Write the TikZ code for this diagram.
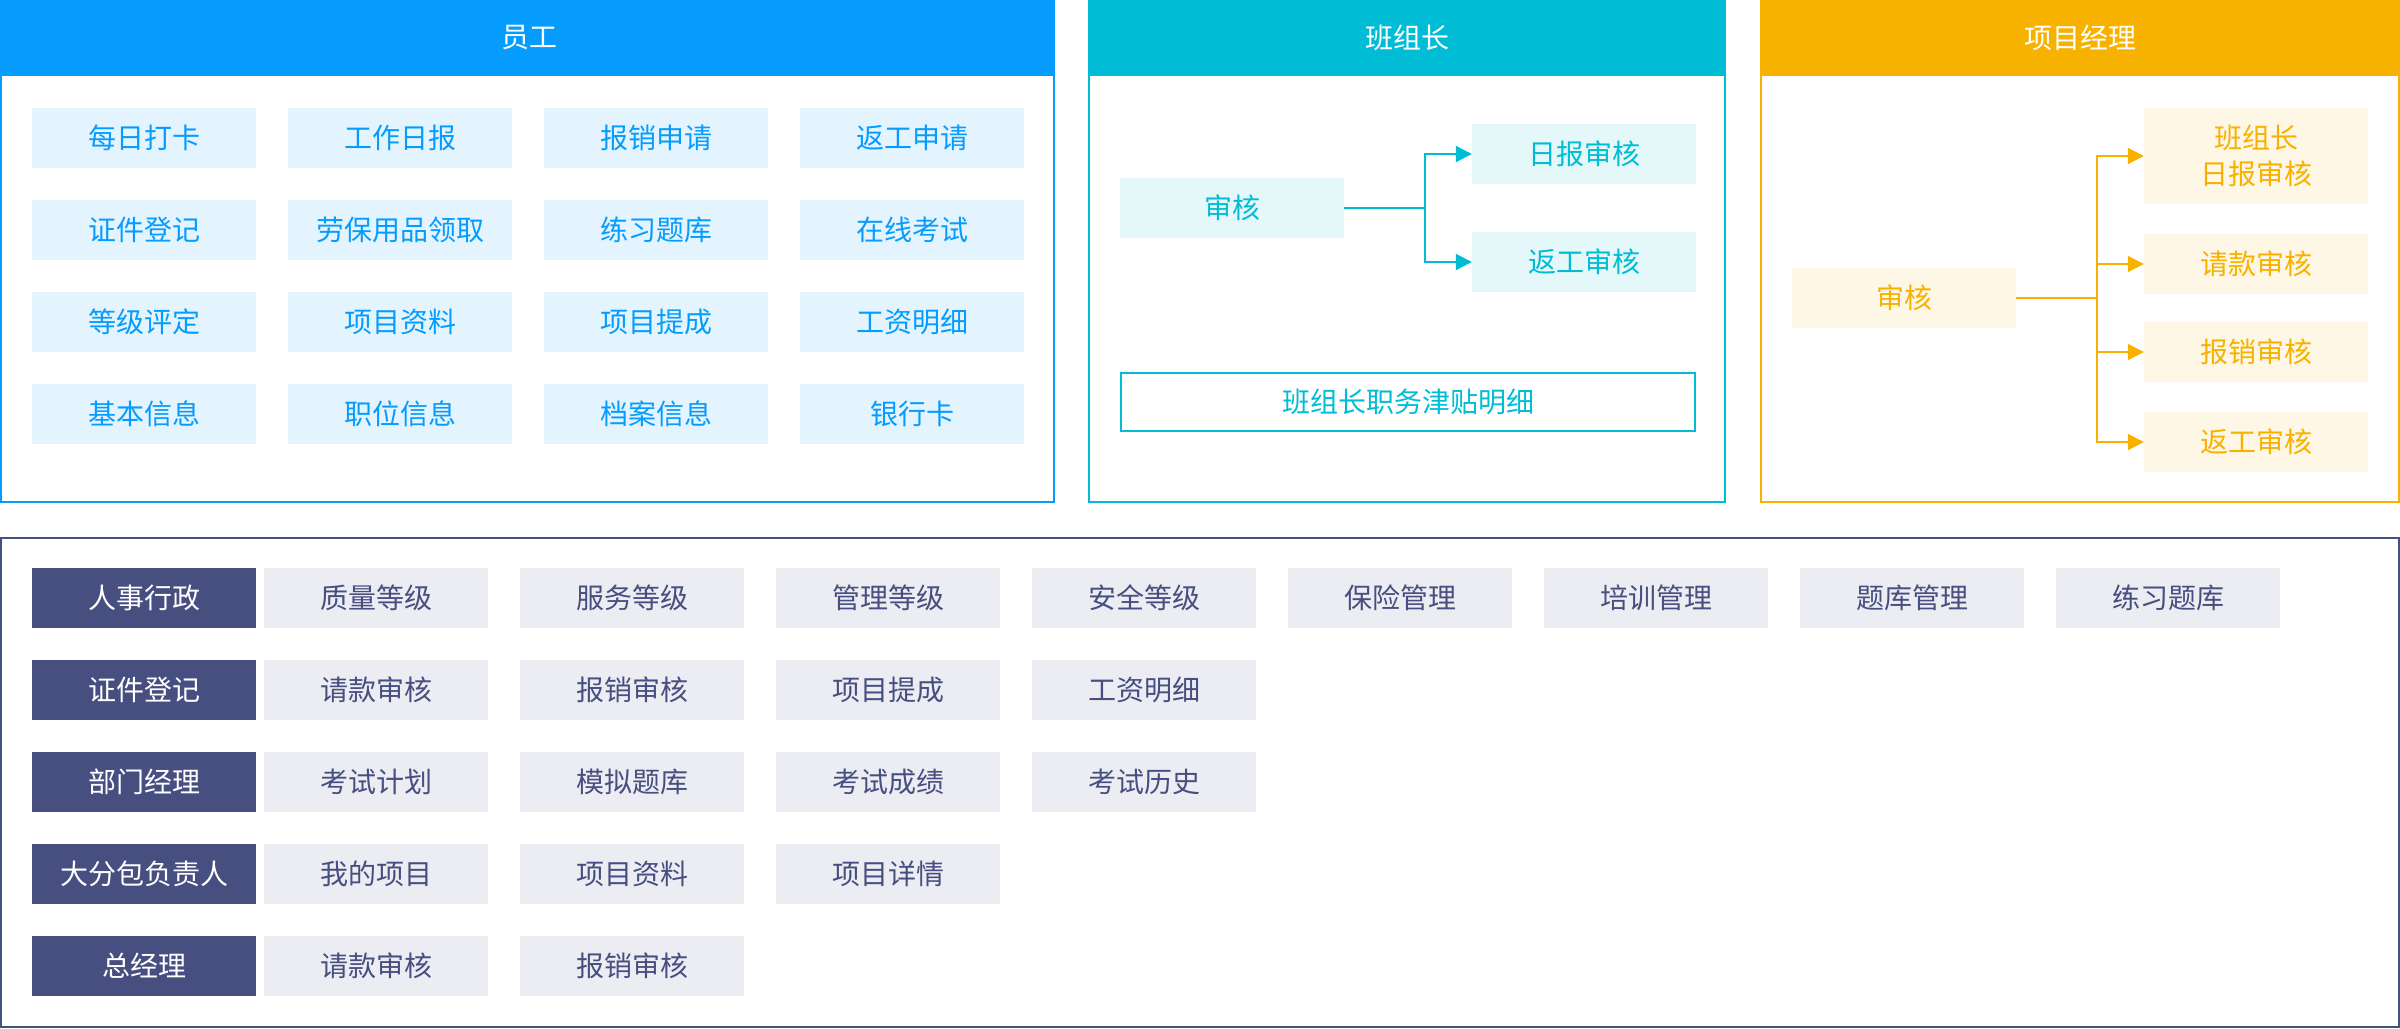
\documentclass[tikz,border=0pt]{standalone}
\usepackage{fontspec}
\setmainfont{Noto Sans CJK SC}
\usetikzlibrary{arrows.meta}
\definecolor{eBlue}{HTML}{069CFD}
\definecolor{eLight}{HTML}{E3F4FE}
\definecolor{tCyan}{HTML}{00BCD4}
\definecolor{tLight}{HTML}{E4F8FA}
\definecolor{pOrange}{HTML}{F7B200}
\definecolor{pLight}{HTML}{FEF7E6}
\definecolor{nNavy}{HTML}{474E80}
\definecolor{nLight}{HTML}{ECEDF2}
\tikzset{
  txt/.style={font=\fontsize{28}{36}\selectfont, inner sep=0pt, align=center},
  cellbox/.style={txt, minimum width=224pt, minimum height=60pt},
  ecell/.style={cellbox, fill=eLight, text=eBlue},
  tcell/.style={cellbox, fill=tLight, text=tCyan},
  pcell/.style={cellbox, fill=pLight, text=pOrange},
  ncell/.style={cellbox, fill=nLight, text=nNavy},
  nlabel/.style={cellbox, fill=nNavy, text=white},
  headtxt/.style={txt, text=white},
  panel/.style={line width=2pt},
  conn/.style={line width=2pt},
  arr/.style={line width=2pt, -{Triangle[length=16pt,width=16pt]}},
}
\begin{document}
\begin{tikzpicture}[x=1pt,y=-1pt]
\useasboundingbox (0,0) rectangle (2400,1028);
% ---------- employee panel
\draw[panel, draw=eBlue] (1,1) rectangle (1054,502);
\fill[eBlue] (0,0) rectangle (1055,76);
\node[headtxt] (ehead) at (529,38) {员工};
\foreach \t [count=\i from 0] in {每日打卡,工作日报,报销申请,返工申请,证件登记,劳保用品领取,练习题库,在线考试,等级评定,项目资料,项目提成,工资明细,基本信息,职位信息,档案信息,银行卡}{
  \pgfmathtruncatemacro{\c}{mod(\i,4)}
  \pgfmathtruncatemacro{\r}{int(\i/4)}
  \node[ecell] (e\i) at (144+256*\c, 138+92*\r) {\t};
}
% ---------- team leader panel
\draw[panel, draw=tCyan] (1089,1) rectangle (1725,502);
\fill[tCyan] (1088,0) rectangle (1726,76);
\node[headtxt] (thead) at (1407,38) {班组长};
\node[tcell] (ta) at (1232,208) {审核};
\node[tcell] (tb) at (1584,154) {日报审核};
\node[tcell] (tc) at (1584,262) {返工审核};
\coordinate (tj) at (1425,208);
\draw[conn, tCyan] (ta.east) -- (tj);
\draw[arr, tCyan] (tj) |- (tb.west);
\draw[arr, tCyan] (tj) |- (tc.west);
\node[txt, text=tCyan, draw=tCyan, line width=2pt, minimum width=574pt, minimum height=58pt] (td) at (1408,402) {班组长职务津贴明细};
% ---------- project manager panel
\draw[panel, draw=pOrange] (1761,1) rectangle (2399,502);
\fill[pOrange] (1760,0) rectangle (2400,76);
\node[headtxt] (phead) at (2080,38) {项目经理};
\node[pcell] (pa) at (1904,298) {审核};
\node[pcell, minimum height=96pt] (pb) at (2256,156) {班组长\\日报审核};
\node[pcell] (pc) at (2256,264) {请款审核};
\node[pcell] (pd) at (2256,352) {报销审核};
\node[pcell] (pe) at (2256,442) {返工审核};
\coordinate (pj) at (2097,298);
\draw[conn, pOrange] (pa.east) -- (pj);
\draw[arr, pOrange] (pj) |- (pb.west);
\draw[arr, pOrange] (pj) |- (pc.west);
\draw[arr, pOrange] (pj) |- (pd.west);
\draw[arr, pOrange] (pj) |- (pe.west);
% ---------- bottom panel
\draw[panel, draw=nNavy] (1,538) rectangle (2399,1027);
\foreach \t/\r in {人事行政/0,证件登记/1,部门经理/2,大分包负责人/3,总经理/4}{
  \node[nlabel] (L\r) at (144,598+92*\r) {\t};
}
\foreach \t [count=\k from 0] in {质量等级,服务等级,管理等级,安全等级,保险管理,培训管理,题库管理,练习题库}{
  \node[ncell] (a\k) at (376+256*\k,598) {\t};
}
\foreach \t [count=\k from 0] in {请款审核,报销审核,项目提成,工资明细}{
  \node[ncell] (b\k) at (376+256*\k,690) {\t};
}
\foreach \t [count=\k from 0] in {考试计划,模拟题库,考试成绩,考试历史}{
  \node[ncell] (c\k) at (376+256*\k,782) {\t};
}
\foreach \t [count=\k from 0] in {我的项目,项目资料,项目详情}{
  \node[ncell] (d\k) at (376+256*\k,874) {\t};
}
\foreach \t [count=\k from 0] in {请款审核,报销审核}{
  \node[ncell] (f\k) at (376+256*\k,966) {\t};
}
\end{tikzpicture}
\end{document}
